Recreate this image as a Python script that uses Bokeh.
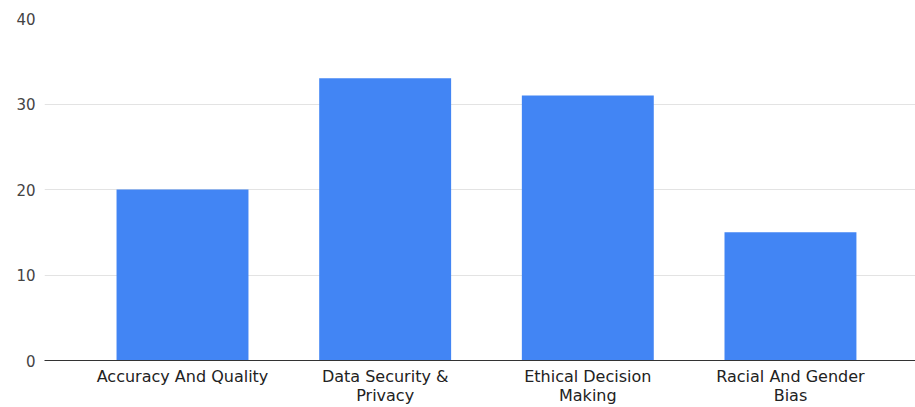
from bokeh.plotting import figure
from bokeh.models import Range1d, FixedTicker, ColumnDataSource
from bokeh.embed import file_html
from bokeh.resources import INLINE

categories = ["Accuracy And Quality", "Data Security &\nPrivacy", "Ethical Decision\nMaking", "Racial And Gender\nBias"]
values = [20, 33, 31, 15]
y_ticks = [0, 10, 20, 30, 40]

xs = list(range(len(categories)))
src = ColumnDataSource(dict(x=xs, top=values))

p = figure(width=915, height=407, output_backend="svg", toolbar_location=None,
           x_range=Range1d(-0.681, 3.617), y_range=Range1d(0, 40),
           min_border_left=44, min_border_right=0, min_border_top=18, min_border_bottom=47)

p.vbar(x="x", top="top", width=0.651, bottom=0, source=src, fill_color="#4285F4", line_color=None)

p.outline_line_color = None
p.background_fill_color = "white"
p.border_fill_color = "white"
p.xgrid.grid_line_color = None
p.ygrid.grid_line_color = "#e3e3e3"
p.ygrid.ticker = FixedTicker(ticks=y_ticks)

p.yaxis.ticker = FixedTicker(ticks=y_ticks)
p.yaxis.axis_line_color = None
p.yaxis.major_tick_line_color = None
p.yaxis.minor_tick_line_color = None
p.yaxis.major_tick_out = 0
p.yaxis.major_label_standoff = 9
p.yaxis.major_label_text_font = "DejaVu Sans"
p.yaxis.major_label_text_font_size = "15px"
p.yaxis.major_label_text_color = "#444444"

p.xaxis.ticker = FixedTicker(ticks=xs)
p.xaxis.major_label_overrides = {i: c for i, c in zip(xs, categories)}
p.xaxis.axis_line_color = "#333333"
p.xaxis.axis_line_width = 1
p.xaxis.major_tick_line_color = None
p.xaxis.minor_tick_line_color = None
p.xaxis.major_tick_out = 0
p.xaxis.major_label_standoff = 6
p.xaxis.major_label_text_font = "DejaVu Sans"
p.xaxis.major_label_text_font_size = "16px"
p.xaxis.major_label_text_color = "#222222"
p.xaxis.major_label_text_line_height = 1.0

open("out.html", "w").write(file_html(p, INLINE))
